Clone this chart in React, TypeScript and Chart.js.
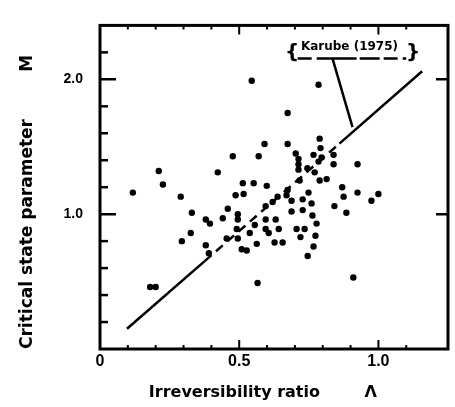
import React, { useEffect, useRef } from "react";
import { Chart, registerables } from "chart.js";

Chart.register(...registerables);

// Irreversibility ratio (Λ) and critical state parameter (M) for each specimen
const LAMBDA = [
  0.545, 0.785, 0.674, 0.789, 0.591, 0.674, 0.477, 0.57, 0.703, 0.767,
  0.792, 0.796, 0.839, 0.839, 0.925, 0.211, 0.423, 0.226, 0.513, 0.552,
  0.118, 0.29, 0.33, 0.38, 0.395, 0.326, 0.294, 0.38, 0.391, 0.18,
  0.2, 0.566, 0.599, 0.674, 0.67, 0.638, 0.62, 0.595, 0.487, 0.516,
  0.459, 0.441, 0.495, 0.495, 0.595, 0.631, 0.763, 0.778, 0.491, 0.538,
  0.556, 0.595, 0.606, 0.642, 0.706, 0.735, 0.72, 0.774, 0.495, 0.455,
  0.509, 0.527, 0.563, 0.627, 0.656, 0.767, 0.746, 0.76, 0.87, 0.875,
  0.842, 0.925, 1.0, 0.975, 0.885, 0.91, 0.713, 0.713, 0.771, 0.785,
  0.717, 0.789, 0.814, 0.688, 0.688, 0.728, 0.728, 0.749, 0.713, 0.745,
];
const M_VALUES = [
  1.99, 1.96, 1.75, 1.56, 1.52, 1.52, 1.43, 1.43, 1.45, 1.44,
  1.49, 1.42, 1.44, 1.37, 1.37, 1.32, 1.31, 1.22, 1.23, 1.23,
  1.16, 1.13, 1.01, 0.96, 0.93, 0.86, 0.8, 0.77, 0.71, 0.46,
  0.46, 0.49, 1.21, 1.18, 1.14, 1.13, 1.09, 1.06, 1.14, 1.15,
  1.04, 0.97, 0.96, 1.0, 0.96, 0.96, 0.99, 0.93, 0.89, 0.86,
  0.92, 0.89, 0.86, 0.89, 0.89, 0.89, 0.83, 0.84, 0.82, 0.82,
  0.74, 0.73, 0.78, 0.79, 0.79, 0.76, 0.69, 1.08, 1.2, 1.13,
  1.06, 1.16, 1.15, 1.1, 1.01, 0.53, 1.41, 1.33, 1.31, 1.39,
  1.25, 1.25, 1.26, 1.1, 1.02, 1.11, 1.03, 1.16, 1.37, 1.34,
];

// Karube (1975) relation
const FIT_X = [0.097, 0.376, 0.86, 1.157];
const FIT_Y = [0.15, 0.652, 1.523, 2.06];
const LEADER_X = [0.835, 0.907];
const LEADER_Y = [2.156, 1.645];
const FIT_LABEL = "Karube (1975)";

// Axis tick labels
const X_TICKS = [0, 0.5, 1.0];
const X_TICK_TEXT = ["0", "0.5", "1.0"];
const Y_TICKS = [1.0, 2.0];
const Y_TICK_TEXT = ["1.0", "2.0"];

const X_TITLE = "Irreversibility ratio        \u039b    ";
const Y_TITLE = "Critical state parameter        M";

const near = (a: number, b: number) => Math.abs(a - b) < 1e-6;

const framePlugin = {
  id: "frameTicks",
  afterDraw(chart: any) {
    const { ctx, chartArea: a, scales } = chart;
    const xs = scales.x;
    const ys = scales.y;
    ctx.save();
    ctx.strokeStyle = "#000";
    ctx.lineCap = "butt";
    // frame
    ctx.lineWidth = 3;
    ctx.strokeRect(a.left, a.top, a.right - a.left, a.bottom - a.top);
    // x ticks (bottom & top, inward)
    ctx.lineWidth = 2;
    xs.ticks.forEach((t: any) => {
      const v = t.value;
      if (near(v, xs.min) || near(v, xs.max)) return;
      const px = xs.getPixelForValue(v);
      const major = X_TICKS.some((m) => near(m, v));
      const len = major ? 9 : 4;
      ctx.beginPath();
      ctx.moveTo(px, a.bottom);
      ctx.lineTo(px, a.bottom - len);
      ctx.moveTo(px, a.top);
      ctx.lineTo(px, a.top + len);
      ctx.stroke();
    });
    // y ticks (left inward, right majors inward)
    ctx.lineWidth = 2.5;
    ys.ticks.forEach((t: any) => {
      const v = t.value;
      if (near(v, ys.min) || near(v, ys.max)) return;
      const py = ys.getPixelForValue(v);
      const major = Y_TICKS.some((m) => near(m, v));
      ctx.beginPath();
      ctx.moveTo(a.left, py);
      ctx.lineTo(a.left + (major ? 16 : 8), py);
      if (major) {
        ctx.moveTo(a.right, py);
        ctx.lineTo(a.right - 12, py);
      }
      ctx.stroke();
    });
    // fit label
    ctx.fillStyle = "#000";
    ctx.textAlign = "center";
    ctx.textBaseline = "middle";
    ctx.font = 'bold 12px "DejaVu Sans"';
    ctx.fillText(FIT_LABEL, xs.getPixelForValue(0.896), ys.getPixelForValue(2.241));
    ctx.font = 'bold 20px "DejaVu Sans"';
    ctx.fillText("{", xs.getPixelForValue(0.69), ys.getPixelForValue(2.2));
    ctx.fillText("}", xs.getPixelForValue(1.125), ys.getPixelForValue(2.2));
    // illegible sub-caption rendered as a broken rule
    ctx.lineWidth = 2.5;
    ctx.setLineDash([14, 5, 40, 3, 20, 4]);
    ctx.beginPath();
    ctx.moveTo(xs.getPixelForValue(0.71), ys.getPixelForValue(2.155));
    ctx.lineTo(xs.getPixelForValue(1.1), ys.getPixelForValue(2.155));
    ctx.stroke();
    ctx.restore();
  },
};

export default function App() {
  const ref = useRef<HTMLCanvasElement>(null);

  useEffect(() => {
    if (!ref.current) return;
    const points = LAMBDA.map((x, i) => ({ x, y: M_VALUES[i] }));
    const fit = FIT_X.map((x, i) => ({ x, y: FIT_Y[i] }));
    const leader = LEADER_X.map((x, i) => ({ x, y: LEADER_Y[i] }));

    const chart = new Chart(ref.current, {
      type: "scatter",
      data: {
        datasets: [
          {
            label: "Data",
            data: points,
            backgroundColor: "#000",
            borderColor: "#000",
            pointRadius: 3.2,
            pointBorderWidth: 0,
          },
          {
            type: "line",
            label: FIT_LABEL,
            data: fit,
            borderColor: "#000",
            borderWidth: 2.5,
            pointRadius: 0,
            fill: false,
            tension: 0,
            segment: {
              borderDash: (c: any) => (c.p0DataIndex === 1 ? [9, 6] : undefined),
            },
          } as any,
          {
            type: "line",
            label: "leader",
            data: leader,
            borderColor: "#000",
            borderWidth: 2.5,
            pointRadius: 0,
            fill: false,
          } as any,
        ],
      },
      options: {
        responsive: false,
        devicePixelRatio: 1,
        animation: false,
        layout: { padding: { left: 0, top: 10, right: 7, bottom: 0 } },
        plugins: { legend: { display: false }, tooltip: { enabled: false } },
        scales: {
          x: {
            type: "linear",
            min: 0,
            max: 1.25,
            grid: { display: false, drawTicks: false },
            border: { display: false },
            afterFit: (s: any) => {
              s.height = 58;
            },
            ticks: {
              stepSize: 0.1,
              autoSkip: false,
              maxRotation: 0,
              padding: 3,
              color: "#000",
              font: { family: "Liberation Sans", size: 16, weight: "bold" },
              callback: (v: any) => {
                const i = X_TICKS.findIndex((m) => near(m, Number(v)));
                return i >= 0 ? X_TICK_TEXT[i] : "";
              },
            },
            title: {
              display: true,
              text: X_TITLE,
              color: "#000",
              padding: { top: 0, bottom: 5 },
              font: { family: "DejaVu Sans", size: 16, weight: "bold" },
            },
          },
          y: {
            type: "linear",
            min: 0,
            max: 2.4,
            grid: { display: false, drawTicks: false },
            border: { display: false },
            afterFit: (s: any) => {
              s.width = 100;
            },
            ticks: {
              stepSize: 0.2,
              autoSkip: false,
              padding: 17,
              color: "#000",
              font: { family: "Liberation Sans", size: 14, weight: "bold" },
              callback: (v: any) => {
                const i = Y_TICKS.findIndex((m) => near(m, Number(v)));
                return i >= 0 ? Y_TICK_TEXT[i] : "";
              },
            },
            title: {
              display: true,
              text: Y_TITLE,
              align: "start",
              color: "#000",
              padding: { top: 17, bottom: 0 },
              font: { family: "DejaVu Sans", size: 17, weight: "bold" },
            },
          },
        },
      } as any,
      plugins: [framePlugin],
    });
    return () => chart.destroy();
  }, []);

  return (
    <div style={{ position: "fixed", left: 0, top: 0, width: 455, height: 407, background: "#fff" }}>
      <canvas ref={ref} width={455} height={407} />
    </div>
  );
}
